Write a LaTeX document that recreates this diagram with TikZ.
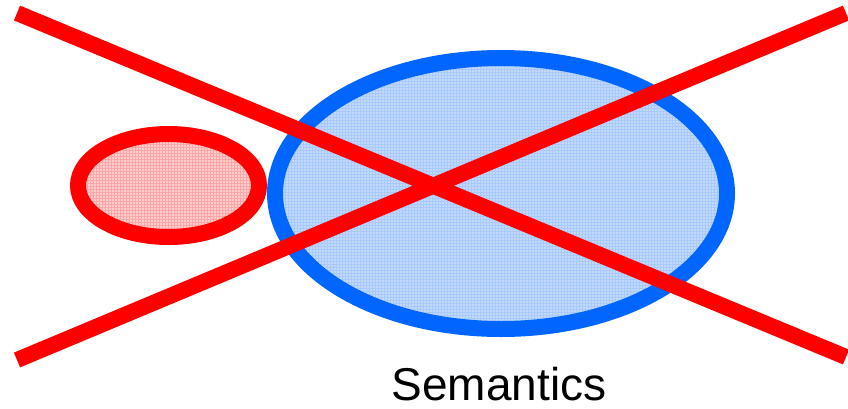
\documentclass[tikz,border=0pt]{standalone}
\usepackage{fontspec}
\setsansfont{Liberation Sans}
\usetikzlibrary{patterns}

\definecolor{crossred}{RGB}{255,0,0}
\definecolor{semblue}{RGB}{0,102,255}
\definecolor{semfill}{RGB}{196,216,250}
\definecolor{redfill}{RGB}{252,205,205}

\begin{document}
\begin{tikzpicture}[x=1pt,y=-1pt, line join=round,
  blob/.style={line width=16pt},
  cross/.style={draw=crossred, line width=16pt, line cap=butt}]
\useasboundingbox (0,0) rectangle (848,408);
\clip (0,0) rectangle (848,408);

% Semantics ellipse
\draw[blob, draw=semblue, preaction={fill=semfill},
  pattern=grid, pattern color=semblue!35]
  (501,193.5) ellipse [x radius=226pt, y radius=135.5pt];

% Small red ellipse
\draw[blob, draw=crossred, preaction={fill=redfill},
  pattern=grid, pattern color=crossred!35]
  (168.5,185.5) ellipse [x radius=90.5pt, y radius=51.5pt];

% Crossing-out lines
\draw[cross] (17,13) -- (846,357);
\draw[cross] (17,360) -- (846,13);

% Label
\node[anchor=base, font=\sffamily\fontsize{46}{55}\selectfont, inner sep=0pt]
  (semlabel) at (499,400) {Semantics};
\end{tikzpicture}
\end{document}
